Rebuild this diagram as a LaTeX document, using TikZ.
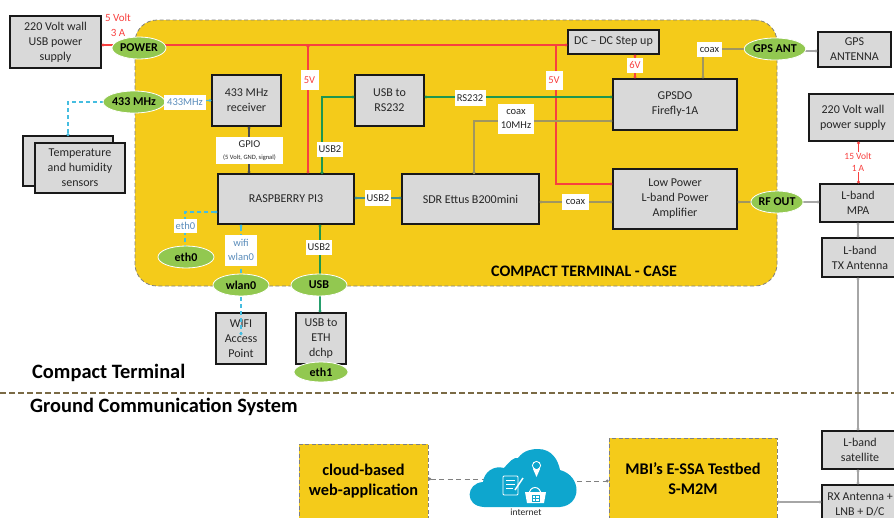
\documentclass[tikz,border=0pt]{standalone}
\usepackage{fontspec}
\setmainfont{Carlito}
\usetikzlibrary{arrows.meta,shapes.geometric}
\definecolor{caseY}{HTML}{F4CB1A}
\definecolor{boxG}{HTML}{D9D9D9}
\definecolor{ellG}{HTML}{92C850}
\definecolor{redL}{HTML}{F8403F}
\definecolor{greenL}{HTML}{1E9650}
\definecolor{dashB}{HTML}{45BDE0}
\definecolor{txtB}{HTML}{5B8DBB}
\definecolor{tanL}{HTML}{A09660}
\definecolor{grayL}{HTML}{A6A6A6}
\definecolor{brownL}{HTML}{7A6A45}
\definecolor{cloudB}{HTML}{0EA6CE}
\definecolor{txtK}{HTML}{262626}
\tikzset{
  sbox/.style={draw=black!90,line width=1.1pt,fill=boxG,align=center,inner sep=0pt,text=txtK,font=\fontsize{12}{15}\selectfont},
  port/.style={ellipse,draw=white,line width=.8pt,fill=ellG,inner sep=0pt,font=\fontsize{12}{13}\bfseries\selectfont,text=black},
  lab/.style={fill=white,inner sep=2pt,align=center,text=txtK,font=\fontsize{10.5}{13.5}\selectfont},
  blab/.style={lab,text=txtB},
  rlab/.style={lab,text=redL},
  dots/.style={{Circle[length=2.8pt]}-{Circle[length=2.8pt]}},
  redw/.style={draw=redL,line width=1.3pt,dots},
  greenw/.style={draw=greenL,line width=1.3pt,dots},
  dashw/.style={draw=dashB,line width=1.2pt,dash pattern=on 4pt off 3pt,dots},
  tanw/.style={draw=tanL,line width=1.3pt,dots},
  grayw/.style={draw=grayL,line width=1.3pt},
  casebox/.style={draw=gray,line width=.8pt,dash pattern=on 4pt off 2.5pt,fill=caseY,inner sep=0pt,align=center,text=black},
  title/.style={anchor=west,inner sep=0pt,font=\fontsize{20.4}{24}\bfseries\selectfont,text=black},
  bigt/.style={inner sep=0pt,align=center,font=\fontsize{16.3}{20}\bfseries\selectfont,text=black},
}
\begin{document}
\begin{tikzpicture}[x=1pt,y=-1pt]
\useasboundingbox (0,0) rectangle (894,517);
\clip (0,0) rectangle (894,517);
\node[casebox,rounded corners=22pt,minimum width=642pt,minimum height=266pt] (case) at (456,153) {};
\node[anchor=west,inner sep=0pt,font=\fontsize{16}{18}\bfseries\selectfont] (casetitle) at (491,271) {COMPACT TERMINAL - CASE};

% boxes
\node[sbox,minimum width=91pt,minimum height=52pt] (wall) at (55.5,42) {220 Volt wall\\USB power\\supply};
\node[sbox,minimum width=90pt,minimum height=50pt] (tempb) at (68,161) {};
\node[sbox,minimum width=90pt,minimum height=50pt] (temp) at (80,168) {Temperature\\and humidity\\sensors};
\node[sbox,minimum width=69pt,minimum height=51pt] (recv) at (246.5,100.5) {433 MHz\\receiver};
\node[sbox,minimum width=136pt,minimum height=50pt] (pi) at (286,199) {RASPBERRY PI3};
\node[sbox,minimum width=69pt,minimum height=51pt] (rs) at (389.5,100.5) {USB to\\RS232};
\node[sbox,minimum width=137pt,minimum height=50pt] (sdr) at (470.5,199) {SDR Ettus B200mini};
\node[sbox,minimum width=91pt,minimum height=24pt] (dc) at (613.5,42) {DC -- DC Step up};
\node[sbox,minimum width=124pt,minimum height=51pt] (gpsdo) at (675,104.5) {GPSDO\\Firefly-1A};
\node[sbox,minimum width=124pt,minimum height=60pt] (amp) at (675,199) {Low Power\\L-band Power\\Amplifier};
\node[sbox,minimum width=73pt,minimum height=35pt] (gpsa) at (854.5,49.5) {GPS\\ANTENNA};
\node[sbox,minimum width=88pt,minimum height=47pt] (wall2) at (853,117.5) {220 Volt wall\\power supply};
\node[sbox,minimum width=76pt,minimum height=38pt] (mpa) at (858,203) {L-band\\MPA};
\node[sbox,minimum width=76pt,minimum height=39pt] (tx) at (860,257.5) {L-band\\TX Antenna};
\node[sbox,minimum width=76pt,minimum height=38pt] (sat) at (860,450) {L-band\\satellite};
\node[sbox,minimum width=76pt,minimum height=38pt] (rx) at (860,504) {RX Antenna +\\LNB + D/C};
\node[sbox,minimum width=50pt,minimum height=51pt] (wifi) at (241,338.5) {WIFI\\Access\\Point};
\node[sbox,minimum width=50pt,minimum height=51pt] (eth) at (321,338.5) {USB to\\ETH\\dchp};

% connectors
\coordinate (r1) at (308,45);
\coordinate (r2) at (556,45);
\draw[redw] (wall.east |- r1) -- (dc.west |- r1);
\draw[redw] (r1) -- (r1 |- pi.north);
\draw[redw,-{Circle[length=2.8pt]}] (r2) -- (r2 |- 0,184) -- (amp.west |- 0,184);
\draw[redw] (dc.south -| 635,0) -- (gpsdo.north -| 635,0);
\draw[redw] (wall2.south -| 858.5,0) -- (mpa.north -| 858.5,0);

\draw[greenw] (rs.east |- 0,97) -- (gpsdo.west |- 0,97);
\draw[greenw] (rs.west |- 0,97) -- (322,97) -- (322,174);
\draw[tanw] (474,174) -- (474,121) -- (gpsdo.west |- 0,121);
\draw[greenw,draw=txtB!60!greenL] (pi.east |- 0,198) -- (sdr.west |- 0,198);
\draw[tanw] (sdr.east |- 0,202) -- (amp.west |- 0,202);
\draw[greenw] (pi.south -| 320,0) -- (320,285);
\draw[greenw,draw=greenL!80!dashB] (320,285) -- (eth.north -| 320,0);
\draw[tanw] (gpsdo.north -| 703,0) -- (703,49) -- (752,49);
\draw[grayw,dots] (790,51) -- (gpsa.west |- 0,51);
\draw[tanw] (amp.east |- 0,202) -- (755,202);
\draw[grayw,dots] (795,202) -- (mpa.west |- 0,202);
\draw[grayw,dots] (mpa.south -| 858,0) -- (tx.north -| 858,0);
\draw[grayw,dots] (tx.south -| 858,0) -- (sat.north -| 858,0);
\draw[grayw,dots] (sat.south -| 858,0) -- (rx.north -| 858,0);
\coordinate (mbir) at (777,502);
\draw[black!70,line width=1.2pt,dots] (recv.south -| 249,0) -- (pi.north -| 249,0);

\draw[dashw] (134,102) -- (68,102) -- (68,136);
\draw[dashw] (134,102) -- (recv.west);
\draw[dashw] (pi.west |- 0,212) -- (185,212) -- (185,257);
\draw[dashw] (pi.south -| 241,0) -- (241,335);

% ground system boxes
\node[casebox,minimum width=129pt,minimum height=90pt] (web) at (363.5,489) {};
\node[casebox,minimum width=168pt,minimum height=100pt] (mbi) at (693,488) {};
\node[bigt] (webt) at (363.5,481) {cloud-based\\web-application};
\node[bigt] (mbit) at (693,479) {MBI’s E-SSA Testbed\\S-M2M};
\draw[grayw,dots] (mbi.east |- mbir) -- (rx.west |- mbir);

% port ellipses
\node[port,minimum width=54pt,minimum height=22pt] (power) at (139,48) {POWER};
\node[port,minimum width=54pt,minimum height=22pt] (mhz) at (134,102) {433 MHz};
\node[port,minimum width=50pt,minimum height=22pt] (gant) at (775,49) {GPS ANT};
\node[port,minimum width=50pt,minimum height=22pt] (rf) at (777,202) {RF OUT};
\node[port,minimum width=56pt,minimum height=22pt] (eth0) at (186,257) {eth0};
\node[port,minimum width=56pt,minimum height=22pt] (wlan) at (241,285) {wlan0};
\node[port,minimum width=56pt,minimum height=22pt] (usb) at (319,285) {USB};
\node[port,minimum width=54pt,minimum height=20pt] (eth1) at (321,372) {eth1};

\coordinate (cl) at (490,479);
\coordinate (cr) at (560,481);
\draw[draw=gray,line width=1pt,dash pattern=on 5pt off 3.5pt,{Circle[length=2.8pt]}-] (web.east |- cl) -- (cl);
\draw[draw=gray,line width=1pt,dash pattern=on 5pt off 3.5pt,-{Circle[length=2.8pt]}] (cr) -- (mbi.west |- cr);

% cloud
\fill[cloudB] (484,507) .. controls (464,506) and (466,483) .. (483,482)
  .. controls (484,472) and (494,465) .. (504,468)
  .. controls (510,461) and (514,457) .. (518,458)
  .. controls (524,450) and (532,449) .. (538,449)
  .. controls (552,449) and (558,460) .. (560,470)
  .. controls (582,476) and (582,505) .. (560,507) -- cycle;
\draw[white,line width=.9pt,rounded corners=1pt] (503,476) -- (518,476) -- (518,495) -- (503,495) -- cycle;
\draw[white,line width=.7pt] (506,480) -- (515,480) (506,484) -- (515,484) (506,488) -- (513,488);
\draw[white,line width=1.5pt] (515,490) -- (523,478);
\draw[white,line width=1pt] (536.5,465.5) circle (4pt);
\fill[white] (533,469) -- (536.5,477) -- (540,469) -- cycle;
\fill[cloudB] (536.5,465.5) circle (3.3pt);
\draw[white,line width=1pt] (529,495) .. controls (529,485) and (541,485) .. (541,495);
\fill[white] (525,492) -- (546,492) -- (544,503) -- (527,503) -- cycle;
\draw[cloudB,line width=.8pt] (532,495) rectangle (539,501) (535.5,495) -- (535.5,501) (532,498) -- (539,498);
\node[inner sep=0pt,font=\fontsize{9.5}{11}\selectfont,text=txtK] (inet) at (526,512.5) {internet};

% labels
\node[text=redL,inner sep=0pt,align=center,font=\fontsize{11}{15}\selectfont] (l5v3a) at (118,25) {5 Volt\\3 A};
\node[blab,minimum width=42pt,minimum height=15pt,inner sep=0pt] (l433) at (185,102) {433MHz};
\node[lab,minimum width=67pt,minimum height=27pt,inner sep=0pt] (lgpio) at (249.5,150.5) {GPIO\\[-1pt]{\fontsize{6.5}{8}\selectfont (5 Volt, GND, signal)}};
\node[rlab,minimum width=18pt,minimum height=20pt,inner sep=0pt] (l5va) at (309.5,80) {5V};
\node[rlab,minimum width=17pt,minimum height=19pt,inner sep=0pt] (l5vb) at (554,80) {5V};
\node[lab,minimum width=26pt,minimum height=15pt,inner sep=0pt] (lusbv) at (330,149) {USB2};
\node[lab,minimum width=31pt,minimum height=16pt,inner sep=0pt] (lrs) at (470,98) {RS232};
\node[lab,minimum width=36pt,minimum height=30pt,inner sep=0pt] (lcoax) at (516,119) {coax\\10MHz};
\node[lab,minimum width=26pt,minimum height=16pt,inner sep=0pt] (lusbh) at (378,198) {USB2};
\node[lab,minimum width=27pt,minimum height=16pt,inner sep=0pt] (lcoax2) at (575.5,202) {coax};
\node[lab,minimum width=25pt,minimum height=15pt,inner sep=0pt] (lcoax3) at (709.5,49.5) {coax};
\node[rlab,minimum width=16pt,minimum height=15pt,inner sep=0pt] (l6v) at (635,65) {6V};
\node[rlab,font=\fontsize{9.5}{12}\selectfont,inner sep=1pt] (l15) at (858,162) {15 Volt\\1 A};
\node[blab,minimum width=23pt,minimum height=14pt,inner sep=0pt] (leth) at (185.5,226) {eth0};
\node[blab,minimum width=32pt,minimum height=31pt,inner sep=0pt] (lwifi) at (241,250) {wifi\\wlan0};
\node[lab,minimum width=26pt,minimum height=15pt,inner sep=0pt] (lusb3) at (319,247) {USB2};

% titles and divider
\node[title] (ct) at (32,373) {Compact Terminal};
\node[title] (gc) at (30,407) {Ground Communication System};
\coordinate (dl) at (0,393);
\coordinate (dr) at (894,393);
\draw[draw=brownL,line width=2.8pt,dash pattern=on 5.5pt off 3.5pt] (dl) -- (dr);
\end{tikzpicture}
\end{document}
